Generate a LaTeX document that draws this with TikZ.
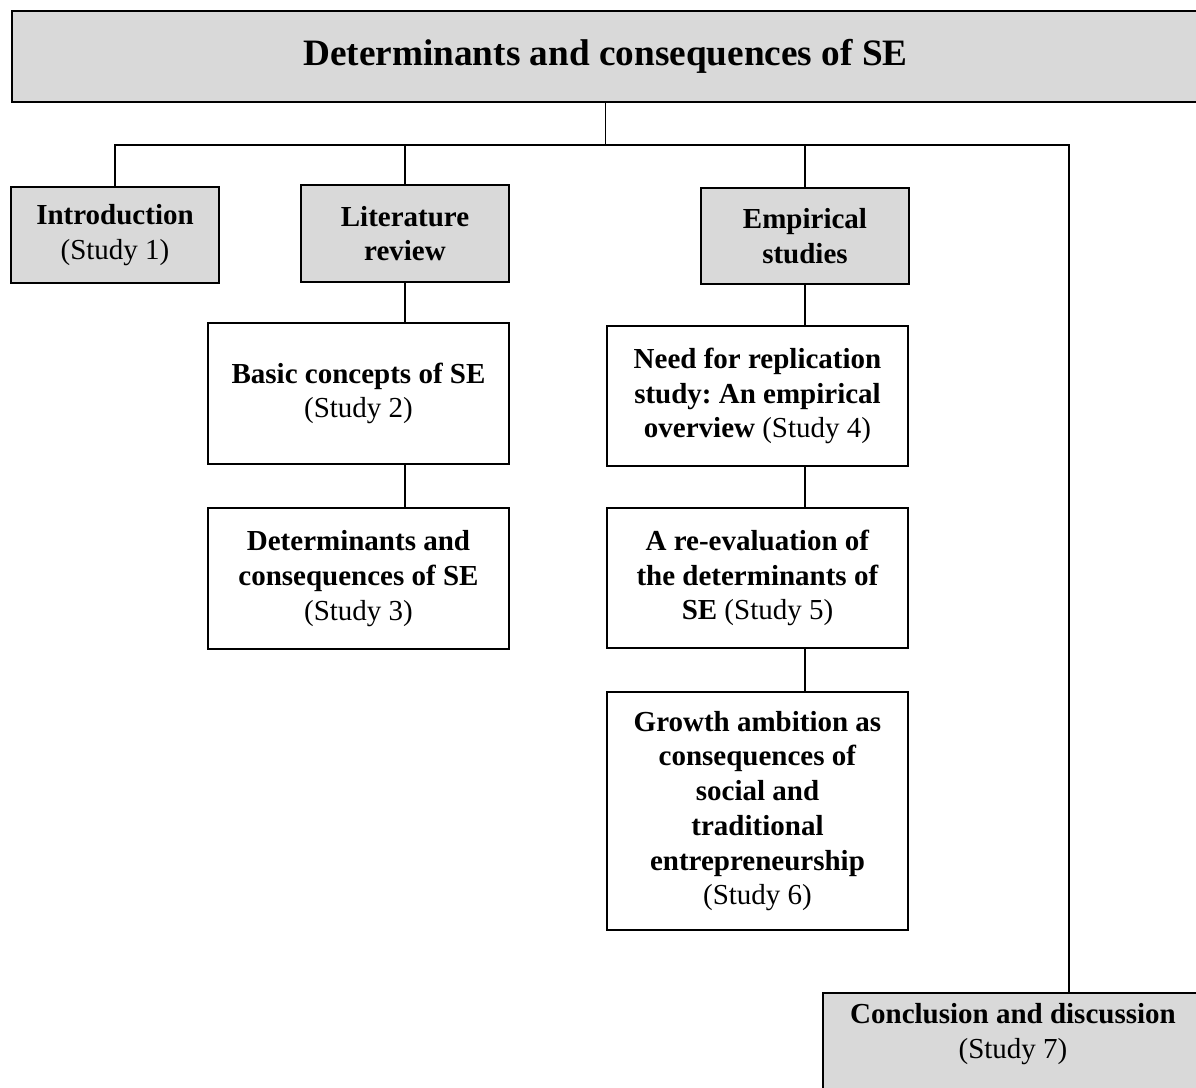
\documentclass[tikz,border=0pt]{standalone}
\usepackage{fontspec}
\setmainfont{Liberation Serif}
\usetikzlibrary{calc, positioning}
\newcommand{\pxu}{0.4pt}
\frenchspacing

\begin{document}
\begin{tikzpicture}[x=0.4pt, y=-0.4pt,
    bodyfont/.style={font=\fontsize{11.6}{13.9}\selectfont},
    greybox/.style={draw, line width=0.9pt, fill=black!15, align=center, inner sep=0pt, bodyfont},
    whitebox/.style={draw, line width=0.9pt, fill=white, align=center, inner sep=0pt, bodyfont},
    link/.style={line width=0.6pt}]

    % --- Page frame ---
    \clip (0,0) rectangle (1196,1088);

    % --- Title ---
    \node[greybox, minimum width=1187*\pxu, minimum height=91*\pxu,
      font=\fontsize{14.9}{17}\selectfont\bfseries] (title) at (605.5,56.5)
      {Determinants and consequences of SE};

    % --- Parts ---
    \node[greybox, minimum width=208*\pxu, minimum height=96*\pxu] (intro) at (115,235)
      {\textbf{Introduction}\\(Study 1)};
    \node[greybox, minimum width=208*\pxu, minimum height=97*\pxu] (lit) at (405,233.5)
      {\textbf{Literature}\\\textbf{review}};
    \node[greybox, minimum width=208*\pxu, minimum height=96*\pxu] (emp) at (805,236)
      {\textbf{Empirical}\\\textbf{studies}};

    % --- Studies ---
    \node[whitebox, minimum width=301*\pxu, minimum height=141*\pxu] (s2) at (358.5,393.5)
      {\textbf{Basic concepts of SE}\\(Study 2)};
    \node[whitebox, minimum width=301*\pxu, minimum height=141*\pxu] (s3) at (358.5,578.5)
      {\textbf{Determinants and}\\\textbf{consequences of SE}\\(Study 3)};
    \node[whitebox, minimum width=301*\pxu, minimum height=140*\pxu] (s4) at (757.5,396)
      {\textbf{Need for replication}\\\textbf{study: An empirical}\\\textbf{overview} (Study 4)};
    \node[whitebox, minimum width=301*\pxu, minimum height=140*\pxu] (s5) at (757.5,578)
      {\textbf{A re-evaluation of}\\\textbf{the determinants of}\\\textbf{SE} (Study 5)};
    \node[whitebox, minimum width=301*\pxu, minimum height=238*\pxu] (s6) at (757.5,811)
      {\textbf{Growth ambition as}\\\textbf{consequences of}\\\textbf{social and}\\\textbf{traditional}\\\textbf{entrepreneurship}\\(Study 6)};

    % --- Conclusion ---
    \node[greybox, anchor=north west, minimum width=382*\pxu, minimum height=120*\pxu] (conc) at (822,992) {};
    \node[align=center, bodyfont] (conctext) at (1013,1034)
      {\textbf{Conclusion and discussion}\\(Study 7)};

    % --- Connectors ---
    \coordinate (bus) at (607,145);
    \coordinate (busend) at (1069,145);
    \draw[link] (title.south) -- (title.south |- bus);
    \draw[link] (intro.north) |- (busend) -- (busend |- conc.north);
    \draw[link] (lit.north) -- (lit.north |- bus);
    \draw[link] (emp.north) -- (emp.north |- bus);

    \draw[link] (lit.south) -- (lit.south |- s2.north);
    \draw[link] (s2.south -| lit.south) -- (s3.north -| lit.south);
    \draw[link] (emp.south) -- (emp.south |- s4.north);
    \draw[link] (s4.south -| emp.south) -- (s5.north -| emp.south);
    \draw[link] (s5.south -| emp.south) -- (s6.north -| emp.south);
\end{tikzpicture}
\end{document}
